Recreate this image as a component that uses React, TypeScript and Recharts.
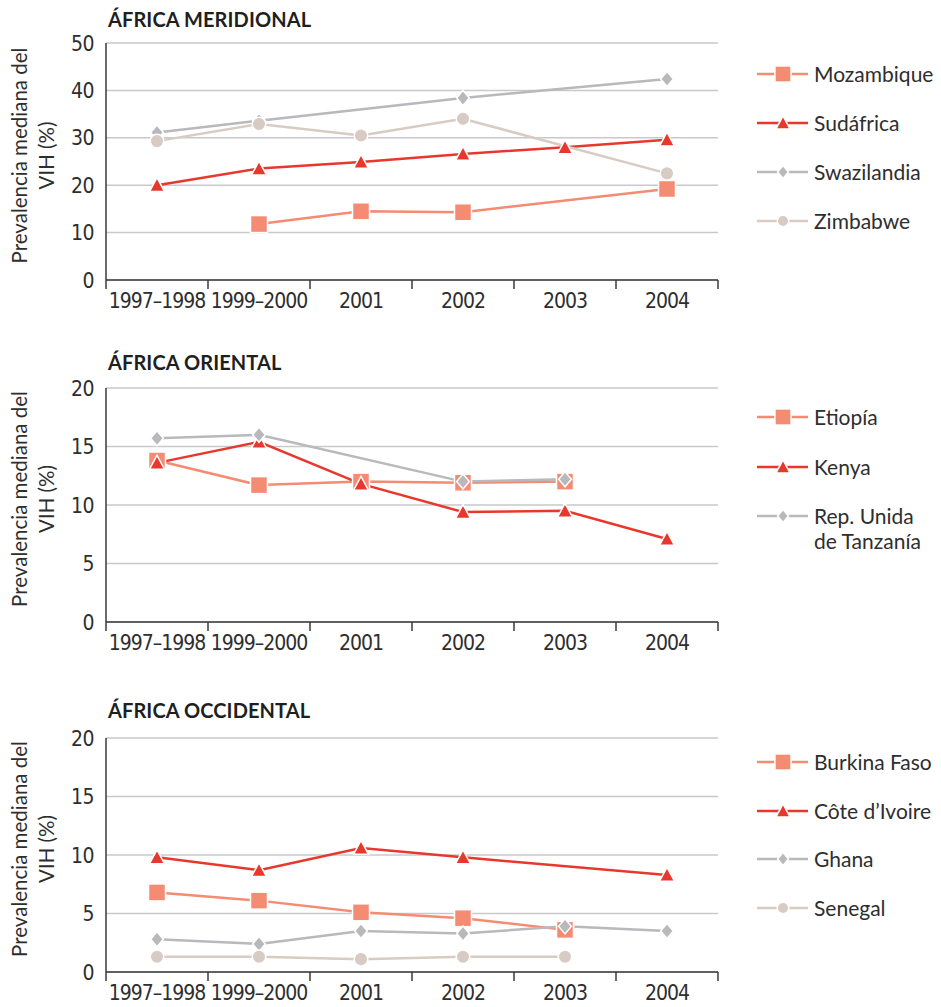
import React from "react";
import { LineChart, Line, XAxis, YAxis, CartesianGrid } from "recharts";

const categories = ["1997–1998", "1999–2000", "2001", "2002", "2003", "2004"];

// África meridional
const mozambique = [null, 11.8, 14.5, 14.3, null, 19.2];
const sudafrica = [20.0, 23.5, 24.9, 26.6, 28.0, 29.6];
const swazilandia = [31.1, 33.6, null, 38.4, null, 42.4];
const zimbabwe = [29.3, 32.9, 30.5, 34.0, null, 22.5];

// África oriental
const etiopia = [13.8, 11.7, 12.0, 11.9, 12.0, null];
const kenya = [13.6, 15.4, 11.8, 9.4, 9.5, 7.1];
const tanzania = [15.7, 16.0, null, 12.0, 12.2, null];

// África occidental
const burkinaFaso = [6.8, 6.1, 5.1, 4.6, 3.6, null];
const coteIvoire = [9.8, 8.7, 10.6, 9.8, null, 8.3];
const ghana = [2.8, 2.4, 3.5, 3.3, 3.9, 3.5];
const senegal = [1.3, 1.3, 1.1, 1.3, 1.3, null];

const ticks50 = [0, 10, 20, 30, 40, 50];
const ticks20 = [0, 5, 10, 15, 20];

const SALMON = "#f48b73";
const RED = "#e8382d";
const GREY = "#b8b8bd";
const BEIGE = "#d8cbc3";

const NARROW = "'DejaVu Sans Condensed', 'Liberation Sans Narrow', sans-serif";
const SANS = "Lato, 'Open Sans', sans-serif";

const CHART_W = 941;
const PLOT_LEFT = 106;
const PLOT_RIGHT = 718;
const STEP = (PLOT_RIGHT - PLOT_LEFT) / categories.length;

type Marker = "square" | "triangle" | "diamond" | "circle";
type Series = { name: string[]; values: (number | null)[]; color: string; marker: Marker };

function MarkerShape({ cx, cy, color, marker, scale = 1 }: { cx: number; cy: number; color: string; marker: Marker; scale?: number }) {
  const sw = 1.5;
  if (marker === "square") {
    const s = 8.5 * scale;
    return <rect x={cx - s} y={cy - s} width={s * 2} height={s * 2} fill={color} stroke="#fff" strokeWidth={sw} />;
  }
  if (marker === "triangle") {
    const s = 7.5 * scale;
    return (
      <polygon
        points={`${cx},${cy - s} ${cx + s},${cy + s * 0.85} ${cx - s},${cy + s * 0.85}`}
        fill={color}
        stroke="#fff"
        strokeWidth={sw}
      />
    );
  }
  if (marker === "diamond") {
    const s = 7.5 * scale;
    return (
      <polygon
        points={`${cx},${cy - s} ${cx + s * 0.85},${cy} ${cx},${cy + s} ${cx - s * 0.85},${cy}`}
        fill={color}
        stroke="#fff"
        strokeWidth={sw}
      />
    );
  }
  return <circle cx={cx} cy={cy} r={6.8 * scale} fill={color} stroke="#fff" strokeWidth={sw} />;
}

const makeDot = (color: string, marker: Marker) => (props: any) => {
  const { cx, cy, index, value } = props;
  if (cy == null || value == null || Number.isNaN(cy)) return <g key={`e-${index}`} />;
  return (
    <g key={`d-${index}`}>
      <MarkerShape cx={cx} cy={cy} color={color} marker={marker} />
    </g>
  );
};

const XTick = (props: any) => {
  const { x, y, payload } = props;
  const i = payload.value;
  if (i >= categories.length) return <g />;
  return (
    <text
      x={x + STEP / 2}
      y={y + 17}
      textAnchor="middle"
      fontFamily={NARROW}
      fontSize={21}
      letterSpacing={-1}
      fill="#2e2e2e"
    >
      {categories[i]}
    </text>
  );
};

const YTick = (props: any) => {
  const { x, y, payload } = props;
  return (
    <text x={x} y={y + 7.5} textAnchor="end" fontFamily={NARROW} fontSize={21} letterSpacing={-0.5} fill="#2e2e2e">
      {payload.value}
    </text>
  );
};

const YLabel = (props: any) => {
  const { viewBox } = props;
  const cy = viewBox.y + viewBox.height / 2 - 6;
  return (
    <g>
      <text
        transform={`translate(27, ${cy}) rotate(-90)`}
        textAnchor="middle"
        fontFamily={SANS}
        fontSize={20.5}
        fill="#2e2e2e"
      >
        Prevalencia mediana del
      </text>
      <text
        transform={`translate(54, ${cy}) rotate(-90)`}
        textAnchor="middle"
        fontFamily={SANS}
        fontSize={20.5}
        fill="#2e2e2e"
      >
        VIH (%)
      </text>
    </g>
  );
};

function LegendBox({ series, top, gaps }: { series: Series[]; top: number; gaps: number[] }) {
  let y = top;
  return (
    <div style={{ position: "absolute", left: 755, top: 0, width: 186 }}>
      {series.map((s, i) => {
        const itemTop = y;
        y += gaps[i] ?? 49;
        return (
          <div key={s.name.join(" ")} style={{ position: "absolute", top: itemTop - 13, left: 0, display: "flex", alignItems: "flex-start" }}>
            <svg width={56} height={26} style={{ flex: "none" }}>
              <line x1={2} y1={13} x2={53} y2={13} stroke={s.color} strokeWidth={2.5} />
              <MarkerShape cx={28} cy={13} color={s.color} marker={s.marker} scale={s.marker === "diamond" || s.marker === "circle" ? 0.85 : 0.95} />
            </svg>
            <div style={{ fontFamily: SANS, fontSize: 21, color: "#2e2e2e", lineHeight: "25px", marginLeft: 3, whiteSpace: "nowrap" }}>
              {s.name.map((n) => (
                <div key={n}>{n}</div>
              ))}
            </div>
          </div>
        );
      })}
    </div>
  );
}

function Panel({
  title,
  top,
  titleTop,
  plotTop,
  plotHeight,
  yMax,
  yTicks,
  series,
  legendTop,
  legendGaps,
}: {
  title: string;
  top: number;
  titleTop: number;
  plotTop: number;
  plotHeight: number;
  yMax: number;
  yTicks: number[];
  series: Series[];
  legendTop: number;
  legendGaps: number[];
}) {
  const data = categories.map((c, i) => {
    const row: Record<string, any> = { x: i + 0.5, label: c };
    series.forEach((s) => {
      row[s.name.join(" ")] = s.values[i];
    });
    return row;
  });
  const height = plotTop + plotHeight + 45;
  return (
    <div style={{ position: "absolute", left: 0, top, width: CHART_W, height }}>
      <div
        style={{
          position: "absolute",
          left: 108,
          top: titleTop,
          fontFamily: SANS,
          fontWeight: 700,
          fontSize: 20,
          color: "#1f1f1f",
          letterSpacing: 0.1,
        }}
      >
        {title}
      </div>
      <LineChart
        width={CHART_W}
        height={height}
        data={data}
        margin={{ top: plotTop, right: CHART_W - PLOT_RIGHT, bottom: 45 - 30, left: 0 }}
      >
        <CartesianGrid horizontal vertical={false} stroke="#c9c9cd" strokeWidth={1.5} />
        <XAxis
          dataKey="x"
          type="number"
          domain={[0, categories.length]}
          ticks={[0, 1, 2, 3, 4, 5, 6]}
          interval={0}
          tickSize={9}
          tickLine={{ stroke: "#3a3a3a", strokeWidth: 1.5 }}
          axisLine={{ stroke: "#3a3a3a", strokeWidth: 1.5 }}
          tick={<XTick />}
          height={30}
          allowDataOverflow
        />
        <YAxis
          type="number"
          domain={[0, yMax]}
          ticks={yTicks}
          interval={0}
          width={PLOT_LEFT}
          tickLine={false}
          tickMargin={6}
          axisLine={{ stroke: "#3a3a3a", strokeWidth: 1.5 }}
          tick={<YTick />}
          label={<YLabel />}
        />
        {series.map((s) => (
          <Line
            key={s.name.join(" ")}
            type="linear"
            dataKey={s.name.join(" ")}
            stroke={s.color}
            strokeWidth={2.5}
            connectNulls
            dot={makeDot(s.color, s.marker)}
            activeDot={false}
            isAnimationActive={false}
          />
        ))}
      </LineChart>
      <LegendBox series={series} top={legendTop} gaps={legendGaps} />
    </div>
  );
}

const meridional: Series[] = [
  { name: ["Mozambique"], values: mozambique, color: SALMON, marker: "square" },
  { name: ["Sudáfrica"], values: sudafrica, color: RED, marker: "triangle" },
  { name: ["Swazilandia"], values: swazilandia, color: GREY, marker: "diamond" },
  { name: ["Zimbabwe"], values: zimbabwe, color: BEIGE, marker: "circle" },
];

const oriental: Series[] = [
  { name: ["Etiopía"], values: etiopia, color: SALMON, marker: "square" },
  { name: ["Kenya"], values: kenya, color: RED, marker: "triangle" },
  { name: ["Rep. Unida", "de Tanzanía"], values: tanzania, color: GREY, marker: "diamond" },
];

const occidental: Series[] = [
  { name: ["Burkina Faso"], values: burkinaFaso, color: SALMON, marker: "square" },
  { name: ["Côte d’Ivoire"], values: coteIvoire, color: RED, marker: "triangle" },
  { name: ["Ghana"], values: ghana, color: GREY, marker: "diamond" },
  { name: ["Senegal"], values: senegal, color: BEIGE, marker: "circle" },
];

export default function App() {
  return (
    <div style={{ position: "absolute", left: 0, top: 0, width: 941, height: 1007, background: "#fff" }}>
      <Panel
        title="ÁFRICA MERIDIONAL"
        top={0}
        titleTop={7}
        plotTop={43}
        plotHeight={237}
        yMax={50}
        yTicks={ticks50}
        series={meridional}
        legendTop={74}
        legendGaps={[49, 49, 49]}
      />
      <Panel
        title="ÁFRICA ORIENTAL"
        top={345}
        titleTop={5}
        plotTop={43}
        plotHeight={234}
        yMax={20}
        yTicks={ticks20}
        series={oriental}
        legendTop={72}
        legendGaps={[50, 49]}
      />
      <Panel
        title="ÁFRICA OCCIDENTAL"
        top={695}
        titleTop={3}
        plotTop={43}
        plotHeight={234}
        yMax={20}
        yTicks={ticks20}
        series={occidental}
        legendTop={67}
        legendGaps={[49, 48, 49]}
      />
    </div>
  );
}
